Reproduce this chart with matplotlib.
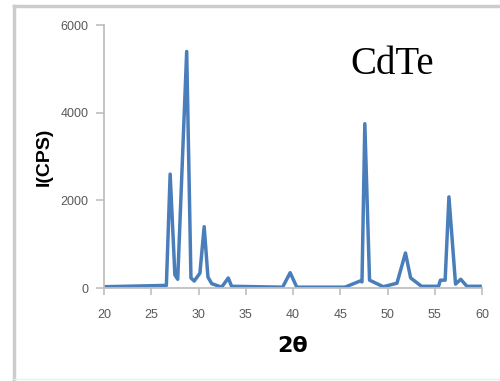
import matplotlib
matplotlib.use("Agg")
import matplotlib.pyplot as plt
from matplotlib.lines import Line2D

# 2-theta (degrees) and intensity (CPS)
two_theta = [20, 26.6, 27.0, 27.5, 27.8, 28.75, 29.2, 29.55, 30.15, 30.6, 31.0, 31.4,
             32.45, 33.15, 33.5, 38.9, 39.7, 40.4, 45.5, 47.1, 47.3, 47.6, 48.1, 49.55,
             51.0, 51.9, 52.45, 53.6, 55.4, 55.6, 56.1, 56.5, 57.2, 57.75, 58.4, 59.8]
intensity = [30, 60, 2600, 300, 200, 5400, 230, 160, 340, 1400, 250, 100,
             20, 230, 40, 20, 350, 20, 20, 160, 140, 3750, 180, 30,
             110, 800, 230, 40, 40, 180, 180, 2080, 90, 200, 40, 40]

x_ticks = [20, 25, 30, 35, 40, 45, 50, 55, 60]
y_ticks = [0, 2000, 4000, 6000]

fig = plt.figure(figsize=(5, 3.81), dpi=100)
ax = fig.add_axes([0.208, 0.244, 0.756, 0.69])

ax.plot(two_theta, intensity, color='#4a7ebb', linewidth=2.5)

ax.set_xlim(20, 60)
ax.set_ylim(0, 6000)
ax.set_xticks(x_ticks)
ax.set_yticks(y_ticks)

for s in ['top', 'right']:
    ax.spines[s].set_visible(False)
for s in ['left', 'bottom']:
    ax.spines[s].set_color('#bfbfbf')
    ax.spines[s].set_linewidth(1.3)

ax.tick_params(axis='both', colors='#bfbfbf', labelcolor='#595959',
               labelsize=9, width=1.2, direction='out')
ax.tick_params(axis='x', length=5, pad=10)
ax.tick_params(axis='y', length=6, pad=5)
for lab in ax.get_xticklabels() + ax.get_yticklabels():
    lab.set_family('Liberation Sans')

ax.set_ylabel('I(CPS)', fontsize=14, fontweight='bold', family='Liberation Sans', labelpad=6)
ax.set_xlabel('2θ', fontsize=16, fontweight='bold', family='DejaVu Sans', labelpad=11)

fig.text(0.785, 0.805, 'CdTe', fontsize=28, family='Liberation Serif', ha='center', va='baseline')

# frame around the picture
fig.add_artist(Line2D([14/500, 1], [1 - 6/381, 1 - 6/381], color='#cccccc', lw=2.5))
fig.add_artist(Line2D([14/500, 14/500], [1 - 6/381, 1 - 379/381], color='#cccccc', lw=2.5))
fig.add_artist(Line2D([14/500, 1], [1 - 379/381, 1 - 379/381], color='#eeeeee', lw=1))

fig.savefig('out.png', dpi=100)
